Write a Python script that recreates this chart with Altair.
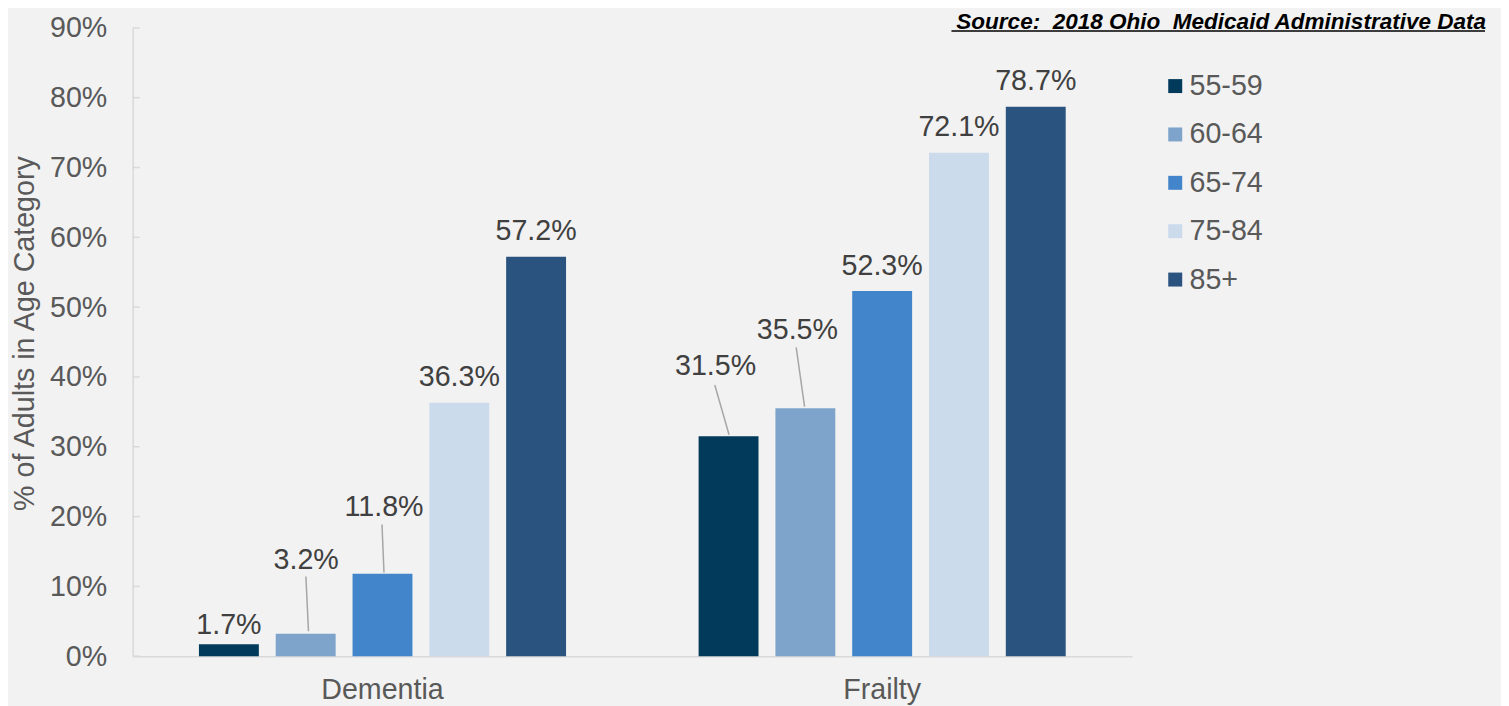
import altair as alt
import pandas as pd

# ---------------- data ----------------
categories = ["Dementia", "Frailty"]
age_groups = ["55-59", "60-64", "65-74", "75-84", "85+"]
dementia_pct = [1.7, 3.2, 11.8, 36.3, 57.2]
frailty_pct = [31.5, 35.5, 52.3, 72.1, 78.7]
age_colors = ["#023A5B", "#7EA4CB", "#4285CA", "#CBDBEB", "#2A537F"]
y_ticks = [0, 10, 20, 30, 40, 50, 60, 70, 80, 90]
source_text = "Source:\u00a0\u00a02018 Ohio\u00a0\u00a0Medicaid Administrative Data"
y_title = "% of Adults in Age Category"

rows = []
for cat, vals in zip(categories, [dementia_pct, frailty_pct]):
    for age, v in zip(age_groups, vals):
        rows.append({"category": cat, "age": age, "value": v, "label": f"{v:.1f}%"})
df = pd.DataFrame(rows)
tick_df = pd.DataFrame({"value": y_ticks})

# ---------------- style ----------------
FONT = "Liberation Sans"
FS = 28.7
W, H = 1002, 630
GRAY_LINE = "#D9D9D9"
TXT = "#595959"
LBL = "#404040"

# hand-placed data labels (dx, dy in px, relative to bar top centre)
label_moves = {
    ("Dementia", "55-59"): (0, -10),
    ("Dementia", "60-64"): (0.5, -65),
    ("Dementia", "65-74"): (1.5, -58.4),
    ("Frailty", "55-59"): (-13, -61.5),
    ("Frailty", "60-64"): (-8, -69.5),
}
# leader lines drawn as custom symbol paths (px, relative to bar top centre)
leader_paths = {
    ("Dementia", "60-64"): "M2.8,-2.6L0.2,-57.6",
    ("Dementia", "65-74"): "M1.5,-1.4L-0.5,-49.4",
    ("Frailty", "55-59"): "M0.5,-1.5L-13.8,-51.5",
    ("Frailty", "60-64"): "M-0.8,-1.8L-9.2,-61.2",
}

x_enc = alt.X(
    "category:N", sort=categories,
    scale=alt.Scale(paddingInner=0, paddingOuter=0),
    axis=alt.Axis(
        title=None, labelAngle=0, ticks=False, tickSize=0,
        domainColor=GRAY_LINE, domainWidth=1.5,
        labelFont=FONT, labelFontSize=FS, labelColor=TXT, labelPadding=19,
    ),
)
xoff_enc = alt.XOffset(
    "age:N", sort=age_groups,
    scale=alt.Scale(paddingInner=0.22, paddingOuter=0.863),
)
y_scale = alt.Scale(domain=[0, 90], nice=False)
y_enc = alt.Y(
    "value:Q", scale=y_scale, title=y_title,
    axis=alt.Axis(
        values=y_ticks, labelExpr="datum.value + '%'", grid=False,
        ticks=False, tickSize=0, domainColor=GRAY_LINE, domainWidth=1.5,
        labelFont=FONT, labelFontSize=FS, labelColor=TXT, labelPadding=26,
        titleFont=FONT, titleFontSize=FS, titleFontWeight="normal",
        titleColor=TXT, titleX=-108, titleY=306, titleBaseline="middle",
    ),
)

base = alt.Chart(df)

bars = base.mark_bar(opacity=1).encode(
    x=x_enc, xOffset=xoff_enc, y=y_enc,
    color=alt.Color(
        "age:N", sort=age_groups,
        scale=alt.Scale(domain=age_groups, range=age_colors),
        legend=alt.Legend(
            title=None, orient="none", legendX=1031, legendY=44,
            direction="vertical", symbolType="square", symbolSize=196,
            symbolStrokeWidth=0, symbolOpacity=1, labelFont=FONT,
            labelFontSize=FS, labelColor=TXT, rowPadding=18.5, labelOffset=0,
            padding=0,
        ),
    ),
)

special_expr = " || ".join(
    f"(datum.category == '{c}' && datum.age == '{a}')" for (c, a) in label_moves
)

normal_labels = base.transform_filter(f"!({special_expr})").mark_text(
    font=FONT, fontSize=FS, color=LBL, baseline="alphabetic", align="center",
    dy=-16.5,
).encode(x=x_enc, xOffset=xoff_enc, y=y_enc, text="label:N")

layers = [bars, normal_labels]

for (c, a), (dx, dy) in label_moves.items():
    layers.append(
        base.transform_filter(
            (alt.datum.category == c) & (alt.datum.age == a)
        ).mark_text(
            font=FONT, fontSize=FS, color=LBL, baseline="alphabetic",
            align="center", dx=dx, dy=dy,
        ).encode(x=x_enc, xOffset=xoff_enc, y=y_enc, text="label:N")
    )

for (c, a), path in leader_paths.items():
    layers.append(
        base.transform_filter(
            (alt.datum.category == c) & (alt.datum.age == a)
        ).mark_point(
            shape=path, size=4, filled=False, stroke="#A6A6A6",
            strokeWidth=1.5, opacity=1,
        ).encode(x=x_enc, xOffset=xoff_enc, y=y_enc)
    )

# inward y-axis ticks
ticks = alt.Chart(tick_df).mark_rule(color=GRAY_LINE, strokeWidth=1.5).encode(
    x=alt.value(0), x2=alt.value(7), y=y_enc,
)
layers.append(ticks)

one = alt.Data(values=[{"k": 1}])
source = alt.Chart(one).mark_text(
    font=FONT, fontSize=22.6, fontWeight="bold", fontStyle="italic",
    color="#000000", align="right", baseline="alphabetic",
).encode(x=alt.value(1357), y=alt.value(1.5), text=alt.value(source_text))
underline = alt.Chart(one).mark_rule(color="#000000", strokeWidth=1.5).encode(
    x=alt.value(821), x2=alt.value(1356), y=alt.value(3.2),
)
layers += [source, underline]

chart = alt.layer(*layers).properties(
    width=W, height=H,
    autosize=alt.AutoSizeParams(type="none"),
    padding={"left": 125, "top": 19, "right": 370, "bottom": 49},
    background="#F2F2F2",
).configure(font=FONT).configure_view(stroke=None)

chart.save("out.html", embed_options={"renderer": "svg", "actions": False})
